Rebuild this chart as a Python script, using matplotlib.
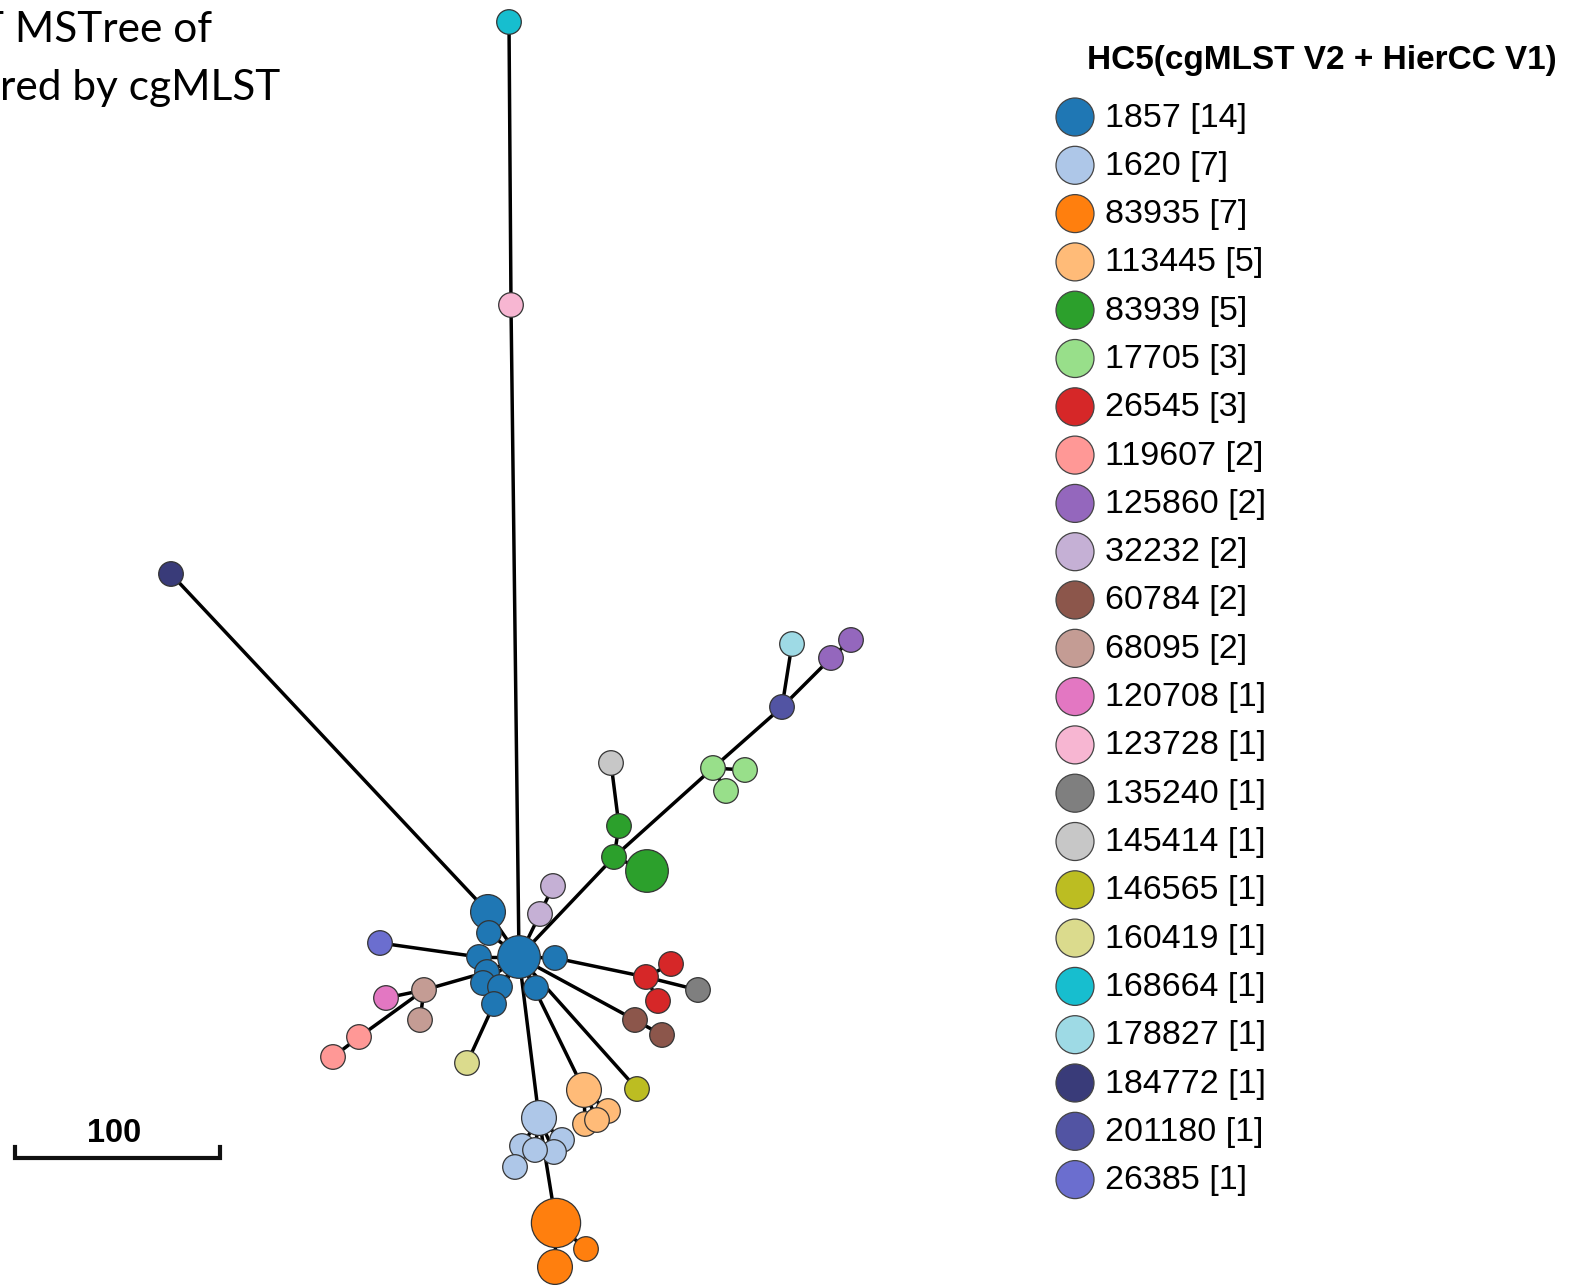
import matplotlib
matplotlib.use("Agg")
import matplotlib.pyplot as plt
from matplotlib.patches import Circle
import numpy as np

# HC5 clusters: label, isolate count, colour
hc5_labels = ["1857", "1620", "83935", "113445", "83939", "17705", "26545",
              "119607", "125860", "32232", "60784", "68095", "120708", "123728",
              "135240", "145414", "146565", "160419", "168664", "178827",
              "184772", "201180", "26385"]
hc5_counts = [14, 7, 7, 5, 5, 3, 3, 2, 2, 2, 2, 2, 1, 1, 1, 1, 1, 1, 1, 1, 1, 1, 1]
hc5_colors = ["#1f77b4", "#aec7e8", "#ff7f0e", "#ffbb78", "#2ca02c", "#98df8a",
              "#d62728", "#ff9896", "#9467bd", "#c5b0d5", "#8c564b", "#c49c94",
              "#e377c2", "#f7b6d2", "#7f7f7f", "#c7c7c7", "#bcbd22", "#dbdb8d",
              "#17becf", "#9edae5", "#393b79", "#5254a3", "#6b6ecf"]

# tree nodes (layout position, HC5 cluster, isolates in node)
node_x = [519, 488, 489, 555, 479, 487, 483, 500, 494, 536,
          511, 509, 171, 540, 553, 614, 619, 647, 611, 713,
          745, 726, 782, 792, 831, 851, 380, 424, 420, 386,
          359, 333, 467, 646, 671, 658, 698, 635, 662, 637,
          584, 608, 585, 597, 539, 562, 522, 554, 535, 515,
          556, 586, 555]
node_y = [957, 912, 933, 958, 957, 972, 983, 987, 1004, 988,
          305, 22, 574, 914, 886, 857, 826, 871, 763, 768,
          770, 791, 707, 644, 658, 640, 943, 990, 1020, 998,
          1037, 1057, 1063, 977, 964, 1001, 990, 1020, 1035, 1089,
          1090, 1111, 1124, 1120, 1118, 1140, 1146, 1152, 1150, 1167,
          1223, 1249, 1267]
node_cluster = ["1857", "1857", "1857", "1857", "1857", "1857", "1857", "1857", "1857", "1857",
                "123728", "168664", "184772", "32232", "32232", "83939", "83939", "83939", "145414", "17705",
                "17705", "17705", "201180", "178827", "125860", "125860", "26385", "68095", "68095", "120708",
                "119607", "119607", "160419", "26545", "26545", "26545", "135240", "60784", "60784", "146565",
                "113445", "113445", "113445", "113445", "1620", "1620", "1620", "1620", "1620", "1620",
                "83935", "83935", "83935"]
node_n = [3, 2, 1, 1, 1, 1, 1, 1, 1, 1,
          1, 1, 1, 1, 1, 1, 1, 3, 1, 1,
          1, 1, 1, 1, 1, 1, 1, 1, 1, 1,
          1, 1, 1, 1, 1, 1, 1, 1, 1, 1,
          2, 1, 1, 1, 2, 1, 1, 1, 1, 1,
          4, 1, 2]

# minimum spanning tree edges
edges = [(0, 10), (10, 11), (1, 12), (0, 1), (0, 2), (0, 3), (0, 4), (0, 5),
         (0, 6), (0, 7), (0, 8), (0, 9), (0, 13), (13, 14), (0, 15), (15, 16),
         (16, 18), (15, 17), (15, 19), (19, 20), (19, 21), (19, 22), (22, 23),
         (22, 24), (24, 25), (4, 26), (5, 27), (27, 29), (27, 28), (27, 30),
         (30, 31), (8, 32), (3, 33), (33, 34), (33, 35), (33, 36), (0, 37),
         (37, 38), (0, 39), (0, 40), (40, 41), (40, 42), (40, 43), (0, 44),
         (44, 45), (44, 46), (44, 47), (44, 48), (46, 49), (44, 50), (50, 51),
         (50, 52)]

color_of = dict(zip(hc5_labels, hc5_colors))

fig = plt.figure(figsize=(15.7, 12.87), dpi=100)
ax = fig.add_axes([0, 0, 1, 1])
ax.set_xlim(0, 1570)
ax.set_ylim(1287, 0)
ax.axis("off")

for a, b in edges:
    ax.plot([node_x[a], node_x[b]], [node_y[a], node_y[b]],
            color="black", lw=2.5, solid_capstyle="round", zorder=1)

for x, y, c, n in zip(node_x, node_y, node_cluster, node_n):
    ax.add_patch(Circle((x, y), 12.3 * np.sqrt(n), facecolor=color_of[c],
                        edgecolor="#333333", lw=0.9, zorder=2))

# legend
ax.text(1087, 60, "HC5(cgMLST V2 + HierCC V1)", fontsize=24, fontweight="bold",
        family="Liberation Sans", va="center", ha="left")
for i, (lab, cnt, col) in enumerate(zip(hc5_labels, hc5_counts, hc5_colors)):
    y = 117 + i * 48.3
    ax.add_patch(Circle((1075, y), 19, facecolor=col, edgecolor="#444444", lw=0.9))
    ax.text(1105, y + 1, f"{lab} [{cnt}]", fontsize=24.5, family="Liberation Sans",
            va="center", ha="left")

# scale bar
ax.plot([15, 15, 220, 220], [1147, 1158, 1158, 1147], color="#111111", lw=3,
        solid_joinstyle="miter")
ax.text(114, 1134, "100", fontsize=23.5, fontweight="bold", family="Liberation Sans",
        ha="center", va="center")

# heading
ax.text(212, 30, "T MSTree of", fontsize=30.5, family="Lato", ha="right", va="center")
ax.text(280, 88, "red by cgMLST", fontsize=30.5, family="Lato", ha="right", va="center")

fig.savefig("out.png", dpi=100)
